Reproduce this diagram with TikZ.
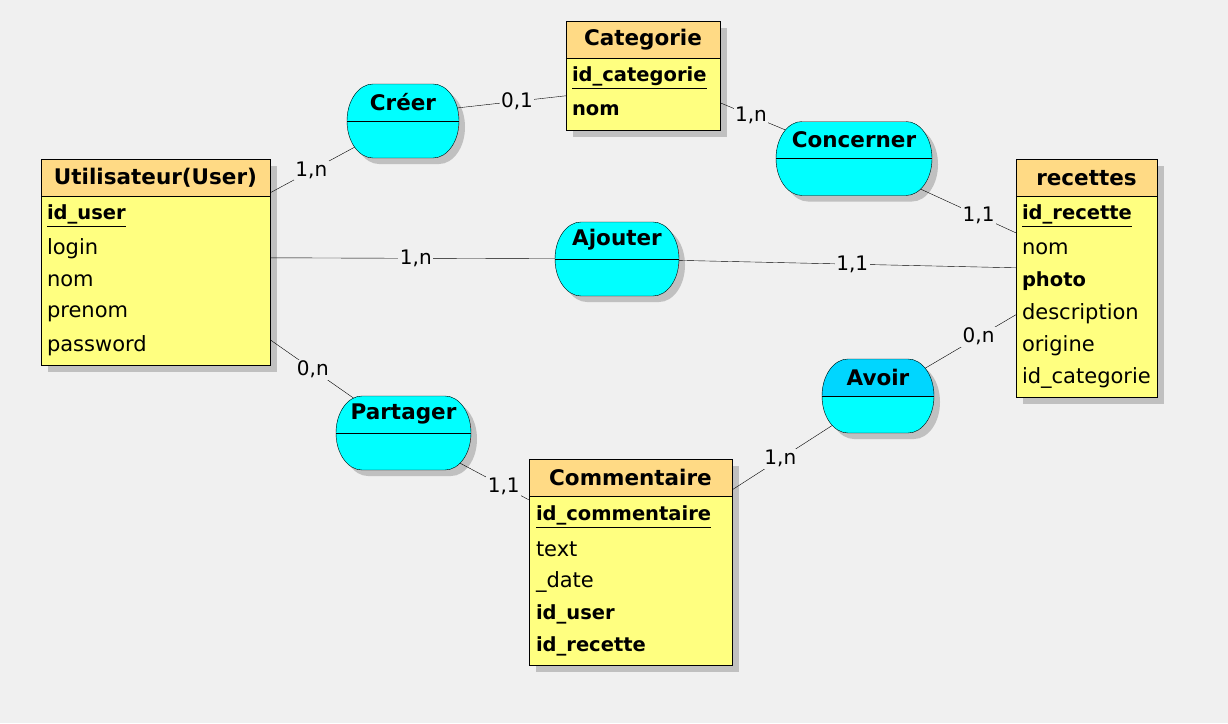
\documentclass[tikz,border=0pt]{standalone}
\usepackage{fontspec}
\setmainfont{DejaVu Sans}
\definecolor{bg}{RGB}{240,240,240}
\definecolor{E1}{RGB}{255,255,128}
\definecolor{E2}{RGB}{255,218,133}
\definecolor{S1}{RGB}{192,192,192}
\definecolor{A1}{RGB}{0,255,255}
\definecolor{A2}{RGB}{0,214,255}
\pgfdeclarelayer{back}
\pgfdeclarelayer{shade}
\pgfdeclarelayer{edges}
\pgfsetlayers{back,shade,edges,main}
\tikzstyle{entity}=[rectangle, fill=E1, inner sep=0]
\tikzstyle{title}=[inner sep=0, font=\fontsize{21.5}{21.5}\selectfont\bfseries]
\tikzstyle{attr}=[anchor=west, inner sep=0, font=\fontsize{21}{21}\selectfont]
\tikzstyle{battr}=[attr, font=\fontsize{19.5}{19.5}\selectfont\bfseries]
\tikzstyle{card}=[fill=bg, inner sep=1.5pt, font=\fontsize{20}{20}\selectfont]
% entity box: name, centre, width, height, title
\newcommand{\entite}[5]{%
  \node[entity, minimum width=#3, minimum height=#4] (#1) at (#2) {};
  \begin{pgfonlayer}{shade}
    \fill[S1] ([shift={(7,7)}]#1.north west) rectangle ([shift={(7,7)}]#1.south east);
  \end{pgfonlayer}
  \fill[E2] (#1.north west) rectangle ([shift={(0,37)}]#1.north east);
  \draw (#1.north west) rectangle (#1.south east);
  \draw ([shift={(0,37)}]#1.north west) -- ([shift={(0,37)}]#1.north east);
  \node[title] at ([shift={(0,19)}]#1.north) {#5};
}
% outline of an association
\newcommand{\rond}[1]{(-#1/2+26,-37) -- (#1/2-26,-37) arc[start angle=90, end angle=-90, x radius=26pt, y radius=37pt] -- (-#1/2+26,37) arc[start angle=-90, end angle=-270, x radius=26pt, y radius=37pt] -- cycle}
% association: top colour, name, centre, width, label
\newcommand{\assoc}[5][A1]{%
  \begin{scope}[shift={(#3)}]
    \begin{pgfonlayer}{shade}
      \fill[S1, shift={(6,6)}] \rond{#4};
    \end{pgfonlayer}
    \begin{scope}
      \clip \rond{#4};
      \fill[A1] (-#4/2,-37) rectangle (#4/2,37);
      \fill[#1] (-#4/2,-37) rectangle (#4/2,0);
    \end{scope}
    \draw \rond{#4};
    \draw (-#4/2,0) -- (#4/2,0);
    \node[title] at (0,-19) {#5};
    \node[minimum width=#4, minimum height=74, inner sep=0] (#2) at (0,0) {};
  \end{scope}
}

\begin{document}
\begin{tikzpicture}[x=1pt, y=-1pt, line width=1pt]
  \begin{pgfonlayer}{back}
    \fill[bg] (0,0) rectangle (1228,723);
  \end{pgfonlayer}
  \useasboundingbox (0,0) rectangle (1228,723);

  % entities
  \entite{user}{155.5,262}{229}{206}{Utilisateur(User)}
  \foreach \s/\t [count=\i from 0] in {battr/{\underline{id\_user}}, attr/login, attr/nom, attr/prenom, attr/password}
    \node[\s] at ([shift={(6,57+32.5*\i)}]user.north west) {\t};
  \entite{categorie}{643,75.5}{154}{109}{Categorie}
  \foreach \s/\t [count=\i from 0] in {battr/{\underline{id\_categorie}}, battr/nom}
    \node[\s] at ([shift={(6,57+32.5*\i)}]categorie.north west) {\t};
  \entite{recettes}{1086.5,278}{141}{238}{recettes}
  \foreach \s/\t [count=\i from 0] in {battr/{\underline{id\_recette}}, attr/nom, battr/photo, attr/description, attr/origine, attr/id\_categorie}
    \node[\s] at ([shift={(6,57+32.5*\i)}]recettes.north west) {\t};
  \entite{commentaire}{630.5,562}{203}{206}{Commentaire}
  \foreach \s/\t [count=\i from 0] in {battr/{\underline{id\_commentaire}}, attr/text, attr/\_date, battr/id\_user, battr/id\_recette}
    \node[\s] at ([shift={(7,58+32.5*\i)}]commentaire.north west) {\t};

  % associations
  \assoc{creer}{403,121}{112}{Créer}
  \assoc{concerner}{854,158.5}{156}{Concerner}
  \assoc{ajouter}{617,259}{124}{Ajouter}
  \assoc[A2]{avoir}{878,396}{112}{Avoir}
  \assoc{partager}{403.5,433}{135}{Partager}

  % links
  \begin{pgfonlayer}{edges}
    \draw ([shift={(0,34)}]user.north east) -- (creer.center) node[card, pos=.31] {1,n};
    \draw ([shift={(0,75)}]categorie.north west) -- ([shift={(0,-7)}]creer.center) node[card, pos=.3] {0,1};
    \draw ([shift={(0,82)}]categorie.north east) -- (concerner.center) node[card, pos=.23] {1,n};
    \draw ([shift={(0,74)}]recettes.north west) -- (concerner.center) node[card, pos=.23] {1,1};
    \draw ([shift={(0,99)}]user.north east) -- (ajouter.center) node[card, pos=.42] {1,n};
    \draw ([shift={(0,109)}]recettes.north west) -- (ajouter.center) node[card, pos=.41] {1,1};
    \draw ([shift={(0,156)}]recettes.north west) -- (avoir.center) node[card, pos=.27] {0,n};
    \draw ([shift={(0,31)}]commentaire.north east) -- (avoir.center) node[card, pos=.33] {1,n};
    \draw ([shift={(0,181)}]user.north east) -- (partager.center) node[card, pos=.32] {0,n};
    \draw ([shift={(0,41)}]commentaire.north west) -- (partager.center) node[card, pos=.2] {1,1};
  \end{pgfonlayer}
\end{tikzpicture}
\end{document}
